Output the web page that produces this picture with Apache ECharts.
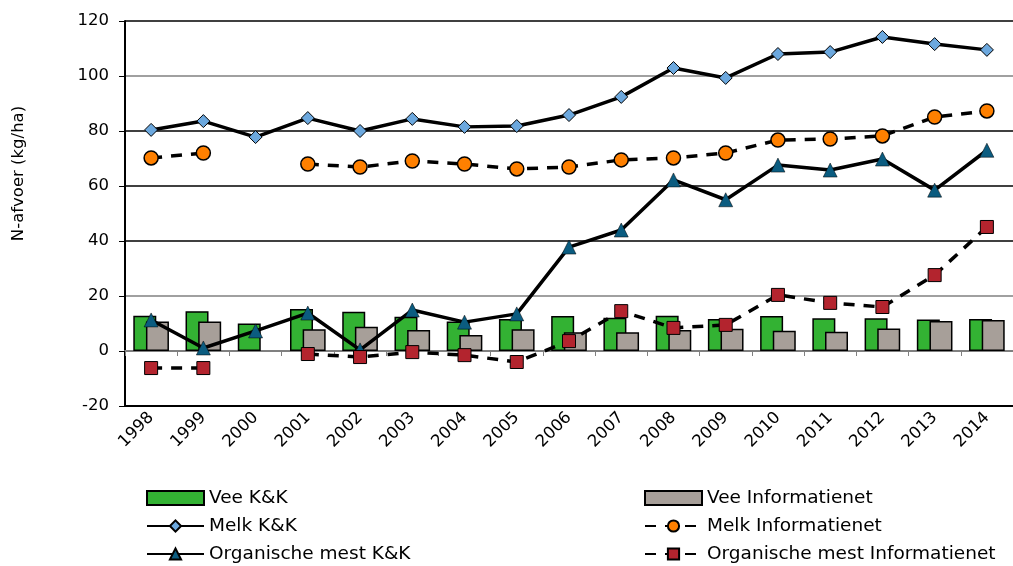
<!DOCTYPE html>
<html>
<head>
<meta charset="utf-8">
<script src="https://cdn.jsdelivr.net/npm/echarts@6/dist/echarts.min.js"></script>
<style>
  html, body { margin: 0; padding: 0; background: #fff; }
  #chart { width: 1013px; height: 566px; }
</style>
</head>
<body>
<div id="chart"></div>
<script>
// jaren
var years = ['1998','1999','2000','2001','2002','2003','2004','2005','2006','2007','2008','2009','2010','2011','2012','2013','2014'];
var yTicks = [-20, 0, 20, 40, 60, 80, 100, 120];

// vee (staven)
var veeKK = [12.8, 14.5, 10, 15.3, 14.3, 12.5, 10.7, 11.6, 12.7, 12.1, 12.8, 11.6, 12.7, 11.9, 11.9, 11.5, 11.6];
var veeInfo = [10.7, 10.7, null, 7.9, 8.8, 7.6, 5.8, 7.9, 6.8, 6.8, 7.6, 8.1, 7.4, 7.0, 8.2, 10.9, 11.3];

// melk
var melkKK = [80.4, 83.6, 77.8, 84.7, 80, 84.4, 81.5, 81.8, 85.8, 92.4, 102.9, 99.3, 108, 108.7, 114.2, 111.6, 109.5];
var melkInfo = [70.2, 72, null, 68, 66.9, 69.1, 68, 66.2, 66.9, 69.5, 70.2, 72, 76.7, 77.1, 78.2, 85.1, 87.3];

// organische mest
var orgKK = [11.3, 1.1, 7.3, 13.8, 0.4, 14.9, 10.5, 13.5, 37.8, 44, 62.2, 55, 67.6, 65.8, 69.8, 58.5, 73];
var orgInfo = [-6.2, -6.2, null, -1.1, -2.2, -0.4, -1.5, -4, 3.6, 14.5, 8.4, 9.5, 20.4, 17.5, 16, 27.6, 45.1];

var FONT = "'DejaVu Sans', sans-serif";
var chart = echarts.init(document.getElementById('chart'));

var legendText = { fontFamily: FONT, fontSize: 18.5, color: '#000', lineHeight: 20 };

var option = {
  animation: false,
  textStyle: { fontFamily: FONT },
  grid: { left: 125, right: 0, top: 21, bottom: 160 },
  legend: [
    {
      orient: 'vertical', left: 141, top: 483, itemGap: 8, height: 82,
      itemWidth: 57, itemHeight: 14, textStyle: legendText,
      data: [{ name: 'Vee K&K', icon: 'rect' }, 'Melk K&K', 'Organische mest K&K']
    },
    {
      orient: 'vertical', left: 639, top: 483, itemGap: 8, height: 82,
      itemWidth: 57, itemHeight: 14, textStyle: legendText,
      data: [{ name: 'Vee Informatienet', icon: 'rect' }, 'Melk Informatienet', 'Organische mest Informatienet']
    }
  ],
  xAxis: [
    {
      type: 'category', data: years, position: 'bottom',
      axisLine: { onZero: false, lineStyle: { color: '#000', width: 2 } },
      axisTick: { show: false },
      axisLabel: { rotate: 45, fontSize: 16.5, color: '#000', fontFamily: FONT, margin: 9 }
    },
    {
      type: 'category', data: years, position: 'top',
      axisLine: { onZero: true, lineStyle: { color: '#808080', width: 2 } },
      axisTick: { show: true, inside: true, length: 5, lineStyle: { color: '#808080' } },
      axisLabel: { show: false }
    }
  ],
  yAxis: {
    type: 'value', min: -20, max: 120, interval: 20,
    name: 'N-afvoer (kg/ha)', nameLocation: 'middle', nameGap: 98, nameRotate: 90,
    nameTextStyle: { fontSize: 16.5, color: '#000', fontFamily: FONT, padding: [0, 0, 0, 80] },
    axisLine: { show: true, lineStyle: { color: '#000', width: 2 } },
    axisTick: { show: true, length: 6, lineStyle: { color: '#000' } },
    axisLabel: { fontSize: 16.5, color: '#000', fontFamily: FONT, margin: 16 },
    splitLine: {
      show: true,
      lineStyle: { color: ['#000', '#808080', '#808080', '#000', '#000', '#000', '#808080', '#000'], width: 1.5 }
    }
  },
  series: [
    {
      name: 'Vee K&K', type: 'bar', data: veeKK,
      barWidth: 23, barGap: '-45%',
      itemStyle: { color: '#33B233', borderColor: '#000', borderWidth: 1.5 }
    },
    {
      name: 'Vee Informatienet', type: 'bar', data: veeInfo,
      barWidth: 23, barGap: '-45%',
      itemStyle: { color: '#A79F99', borderColor: '#000', borderWidth: 1.5 }
    },
    {
      name: 'Melk K&K', type: 'line', data: melkKK,
      symbol: 'diamond', symbolSize: 13,
      lineStyle: { color: '#000', width: 3.5 },
      itemStyle: { color: '#6CA8DE', borderColor: '#000', borderWidth: 1 }
    },
    {
      name: 'Melk Informatienet', type: 'line', data: melkInfo,
      symbol: 'circle', symbolSize: 14,
      lineStyle: { color: '#000', width: 3.5, type: [11, 9] },
      itemStyle: { color: '#FF8000', borderColor: '#000', borderWidth: 1.5 }
    },
    {
      name: 'Organische mest K&K', type: 'line', data: orgKK,
      symbol: 'triangle', symbolSize: 14,
      lineStyle: { color: '#000', width: 3.5 },
      itemStyle: { color: '#0B5C80', borderColor: '#000', borderWidth: 0.5 }
    },
    {
      name: 'Organische mest Informatienet', type: 'line', data: orgInfo,
      symbol: 'rect', symbolSize: 13,
      lineStyle: { color: '#000', width: 3.5, type: [11, 9] },
      itemStyle: { color: '#B3242E', borderColor: '#000', borderWidth: 1 }
    }
  ]
};
chart.setOption(option);
</script>
</body>
</html>
